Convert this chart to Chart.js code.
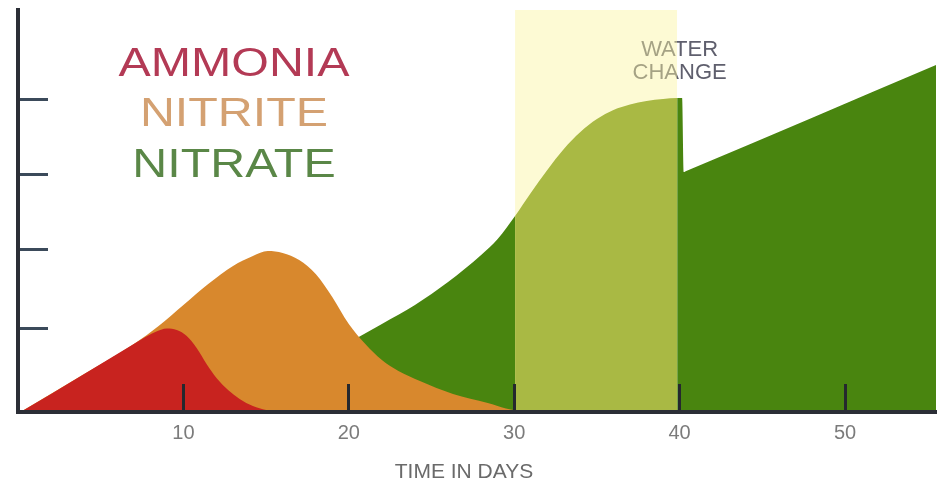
<!DOCTYPE html>
<html>
<head>
<meta charset="utf-8">
<title>Nitrogen cycle</title>
<script src="https://cdn.jsdelivr.net/npm/chart.js@4"></script>
<style>
  html, body { margin: 0; padding: 0; background: #fff; }
  #wrap { width: 945px; height: 483px; }
</style>
</head>
<body>
<div id="wrap"><canvas id="cycleChart" width="945" height="483"></canvas></div>
<script>
// ---- Data ----
// x = days, y = relative level (arbitrary units, 0 at the baseline)
const X_TICKS = [10, 20, 30, 40, 50];
const Y_TICKS = [84, 162, 238, 313];

const ammoniaX = [0.15, 2, 4, 6, 7.5, 8.3, 9, 9.6, 10.2, 10.8, 11.4, 12, 12.7, 13.4, 14.2, 15, 16];
const ammoniaY = [0, 18, 38, 58, 73, 80, 83.5, 82, 76, 64, 48, 34, 22, 13, 6, 2, 0];

const nitriteX = [0.15, 4, 7, 8.5, 10, 11.5, 13, 14.2, 15.1, 16, 17, 18, 19, 20, 21, 22, 23, 24.3, 26.3, 28.4, 29.5, 30.5, 31];
const nitriteY = [0, 38, 68, 86, 107, 128, 146, 156, 161, 159, 152, 138, 115, 88, 68, 52, 41, 31, 18, 9, 3.5, 0.5, 0];

const nitrateX = [10, 14, 17, 19, 20.6, 22, 24, 26, 28, 29, 30.05, 31, 32, 33, 34, 35, 36, 37, 38, 39, 39.85, 40.15, 40.25, 40.4, 55.5];
const nitrateY = [0, 22, 45, 62, 75, 88, 107, 130, 157, 173, 196, 219, 242, 263, 280, 293, 302, 307.5, 311, 313, 314, 314, 240, 241, 347];

const waterChangeX = [30.05, 39.85];
const waterChangeY = [402, 402];

const LEGEND_LABELS = ['AMMONIA', 'NITRITE', 'NITRATE'];
const LEGEND_COLORS = ['#b33a55', '#d4a172', '#5a8747'];
const NOTE_LINES    = ['WATER', 'CHANGE'];
const X_TITLE       = 'TIME IN DAYS';

const FONT = 'Liberation Sans, Arial, sans-serif';

const pts = (xs, ys) => xs.map((x, i) => ({ x, y: ys[i] }));

// nitrate fill is lighter inside the water-change window
const inWindow = c => c.p0.parsed.x >= waterChangeX[0] - 0.01 && c.p1.parsed.x <= waterChangeX[1] + 0.01;

// ---- Text drawn on the canvas (legend words, note, axis title) ----
const textPlugin = {
  id: 'cycleText',
  beforeDatasetsDraw(chart) {
    // drawn under the translucent water-change band
    const ctx = chart.ctx;
    const cx = chart.scales.x.getPixelForValue(40);
    ctx.save();
    ctx.font = '22px ' + FONT;
    ctx.fillStyle = '#5f5f6d';
    ctx.textAlign = 'center';
    ctx.textBaseline = 'alphabetic';
    ctx.fillText(NOTE_LINES[0], cx, 56);
    ctx.fillText(NOTE_LINES[1], cx, 79);
    ctx.restore();
  },
  afterDraw(chart) {
    const ctx = chart.ctx;
    const baselines = [76, 126, 177];
    LEGEND_LABELS.forEach((label, i) => {
      ctx.save();
      ctx.translate(234, baselines[i]);
      ctx.scale(1.18, 1);
      ctx.font = '41px ' + FONT;
      ctx.fillStyle = LEGEND_COLORS[i];
      ctx.textAlign = 'center';
      ctx.textBaseline = 'alphabetic';
      ctx.fillText(label, 0, 0);
      ctx.restore();
    });
    ctx.save();
    ctx.font = '21px ' + FONT;
    ctx.fillStyle = '#6a6a6a';
    ctx.textAlign = 'center';
    ctx.textBaseline = 'alphabetic';
    ctx.fillText(X_TITLE, 464, 478);
    ctx.restore();
  }
};

const ctx = document.getElementById('cycleChart').getContext('2d');
const chart = new Chart(ctx, {
  type: 'line',
  data: {
    datasets: [
      {
        label: 'Ammonia',
        data: pts(ammoniaX, ammoniaY),
        backgroundColor: '#c8231f',
        fill: 'origin'
      },
      {
        label: 'Nitrite',
        data: pts(nitriteX, nitriteY),
        backgroundColor: '#d8882d',
        fill: 'origin'
      },
      {
        label: 'Nitrate',
        data: pts(nitrateX, nitrateY),
        backgroundColor: '#49850f',
        fill: 'origin',
        segment: { backgroundColor: c => inWindow(c) ? '#a9b944' : undefined }
      },
      {
        label: 'Water change',
        data: pts(waterChangeX, waterChangeY),
        backgroundColor: 'rgba(250,244,160,0.45)',
        fill: 'origin',
        tension: 0,
        cubicInterpolationMode: 'default'
      }
    ]
  },
  options: {
    responsive: false,
    animation: false,
    layout: { padding: { top: 10, right: 9, left: 0, bottom: 0 } },
    elements: {
      line: { borderWidth: 0, borderColor: 'transparent', cubicInterpolationMode: 'monotone' },
      point: { radius: 0, hoverRadius: 0 }
    },
    plugins: {
      legend: { display: false },
      tooltip: { enabled: false }
    },
    scales: {
      x: {
        type: 'linear',
        min: 0,
        max: 55.5,
        afterBuildTicks: s => { s.ticks = X_TICKS.map(v => ({ value: v })); },
        afterFit: s => { s.height = 71; },
        border: { color: '#2b2e36', width: 4, z: 1 },
        grid: { drawOnChartArea: false, tickLength: -28, tickColor: '#25282e', tickWidth: 3, z: 1 },
        ticks: { padding: 37, color: '#7b7b7b', maxRotation: 0, font: { family: FONT, size: 20 } }
      },
      y: {
        type: 'linear',
        min: 0,
        max: 402,
        afterBuildTicks: s => { s.ticks = Y_TICKS.map(v => ({ value: v })); },
        afterFit: s => { s.width = 18; },
        border: { color: '#2b2e36', width: 4, z: 1 },
        grid: { drawOnChartArea: false, tickLength: -30, tickColor: '#3b4a5a', tickWidth: 3, z: 1 },
        ticks: { display: false }
      }
    }
  },
  plugins: [textPlugin]
});
</script>
</body>
</html>
